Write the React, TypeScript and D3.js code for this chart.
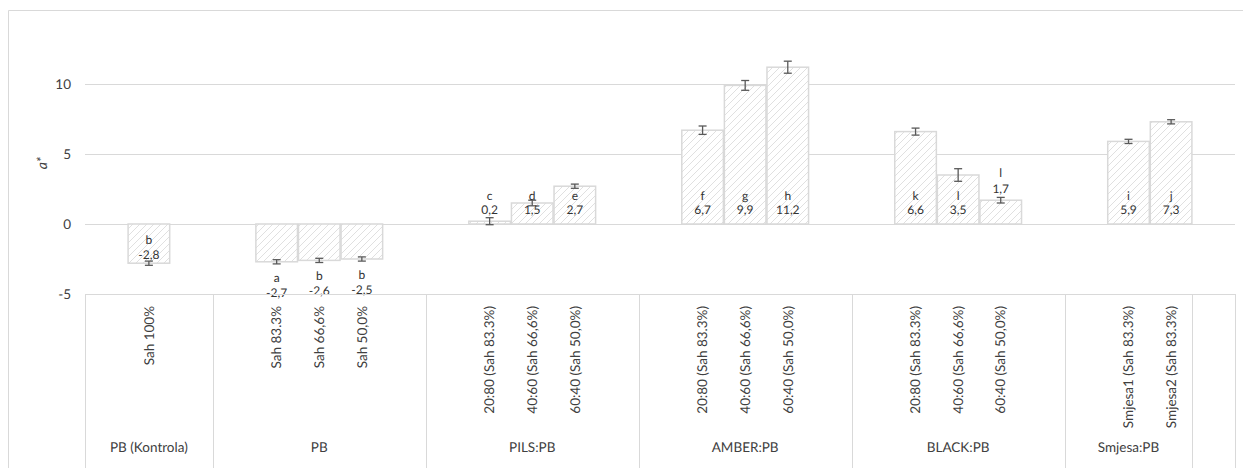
import React from "react";
import * as d3 from "d3";

const groupNames = ["PB (Kontrola)", "PB", "PILS:PB", "AMBER:PB", "BLACK:PB", "Smjesa:PB", ""];
const categoryLabels = [
  "", "Sah 100%", "",
  "", "Sah 83.3%", "Sah 66,6%", "Sah 50,0%", "",
  "", "20:80 (Sah 83.3%)", "40:60 (Sah 66,6%)", "60:40 (Sah 50,0%)", "",
  "", "20:80 (Sah 83.3%)", "40:60 (Sah 66,6%)", "60:40 (Sah 50,0%)", "",
  "", "20:80 (Sah 83.3%)", "40:60 (Sah 66,6%)", "60:40 (Sah 50,0%)", "",
  "", "Smjesa1 (Sah 83.3%)", "Smjesa2 (Sah 83.3%)",
  "",
];
const categoryGroups = [0, 0, 0, 1, 1, 1, 1, 1, 2, 2, 2, 2, 2, 3, 3, 3, 3, 3, 4, 4, 4, 4, 4, 5, 5, 5, 6];
const values: (number | null)[] = [
  null, -2.8, null,
  null, -2.7, -2.6, -2.5, null,
  null, 0.2, 1.5, 2.7, null,
  null, 6.7, 9.9, 11.2, null,
  null, 6.6, 3.5, 1.7, null,
  null, 5.9, 7.3,
  null,
];
const errors: (number | null)[] = [
  null, 0.15, null,
  null, 0.15, 0.15, 0.15, null,
  null, 0.25, 0.2, 0.15, null,
  null, 0.3, 0.35, 0.43, null,
  null, 0.25, 0.45, 0.2, null,
  null, 0.15, 0.15,
  null,
];
const letters = [
  "", "b", "",
  "", "a", "b", "b", "",
  "", "c", "d", "e", "",
  "", "f", "g", "h", "",
  "", "k", "l", "l", "",
  "", "i", "j",
  "",
];
const labelPlacement = [
  "", "insideEnd", "",
  "", "outsideEnd", "outsideEnd", "outsideEnd", "",
  "", "insideBase", "insideBase", "insideBase", "",
  "", "insideBase", "insideBase", "insideBase", "",
  "", "insideBase", "insideBase", "outsideEnd", "",
  "", "insideBase", "insideBase",
  "",
];
const yTicks = [-5, 0, 5, 10];
const yTitle = "a*";

const FONT = "Lato, 'Open Sans', sans-serif";
const GRID = "#d9d9d9";
const TEXT = "#404040";
const LABEL = "#333333";

const loc = d3.formatLocale({ decimal: ",", thousands: ".", grouping: [3], currency: ["", ""], minus: "-" });
const fmt = loc.format(".1f");

export default function App() {
  const W = 1243;
  const H = 468;
  const idx = categoryLabels.map((_, i) => i);
  const x = d3.scaleBand<number>().domain(idx).range([85, 1235]).padding(0);
  const y = d3.scaleLinear().domain([-5, 12]).range([294, 56]);
  const bw = x.bandwidth();
  const y0 = y(0);

  const groupExt = groupNames.map((_, g) => {
    const members = idx.filter((i) => categoryGroups[i] === g);
    const x0 = x(members[0])!;
    const x1 = x(members[members.length - 1])! + bw;
    return { x0, x1 };
  });
  const boundaries = [groupExt[0].x0, ...groupExt.map((e) => e.x1)];

  return (
    <svg width={W} height={H} style={{ position: "absolute", left: 0, top: 0, background: "#fff" }} textRendering="geometricPrecision">
      <defs>
        <pattern id="hatch" patternUnits="userSpaceOnUse" width={7} height={7}>
          <rect width={7} height={7} fill="#fff" />
          <path d="M-1,1 l2,-2 M0,7 l7,-7 M6,8 l2,-2" stroke="#dcdcdc" strokeWidth={0.9} />
        </pattern>
      </defs>
      <path d={`M8.5,${H} V10.5 H${W}`} fill="none" stroke={GRID} strokeWidth={1} />

      {yTicks.map((t) => (
        <line key={t} x1={85} x2={1235} y1={Math.round(y(t)) + 0.5} y2={Math.round(y(t)) + 0.5} stroke={GRID} strokeWidth={1} />
      ))}
      {yTicks.map((t) => (
        <text key={"t" + t} x={71} y={y(t)} dy="0.35em" textAnchor="end" fontFamily={FONT} fontSize={13.5} fill={TEXT}>
          {String(t)}
        </text>
      ))}
      <text transform={`translate(42,163) rotate(-90)`} textAnchor="middle" dy="0.35em" fontFamily={FONT} fontSize={14} fontStyle="italic" fill={TEXT}>
        {yTitle}
      </text>

      {idx.map((i) => {
        const v = values[i];
        if (v == null) return null;
        const yv = y(v);
        return (
          <rect key={"b" + i} x={x(i)! + 0.5} y={Math.min(yv, y0)} width={bw - 1} height={Math.abs(yv - y0)} fill="url(#hatch)" stroke="#d9d9d9" strokeWidth={1.5} />
        );
      })}
      {idx.map((i) => {
        const v = values[i];
        const e = errors[i];
        if (v == null || e == null) return null;
        const cx = x(i)! + bw / 2;
        const ya = y(v + e);
        const yb = y(v - e);
        return (
          <g key={"e" + i} stroke="#595959" strokeWidth={1.3}>
            <line x1={cx} x2={cx} y1={ya} y2={yb} />
            <line x1={cx - 4} x2={cx + 4} y1={ya} y2={ya} />
            <line x1={cx - 4} x2={cx + 4} y1={yb} y2={yb} />
          </g>
        );
      })}
      {idx.map((i) => {
        const v = values[i];
        if (v == null) return null;
        const cx = x(i)! + bw / 2;
        const yv = y(v);
        const p = labelPlacement[i];
        let l1 = 0;
        let l2 = 0;
        if (p === "insideBase") {
          l1 = y0 - 28.5;
          l2 = y0 - 14;
        } else if (p === "insideEnd") {
          l1 = yv - 23;
          l2 = yv - 8;
        } else if (p === "outsideEnd") {
          if (v >= 0) {
            l1 = yv - 27;
            l2 = yv - 11;
          } else {
            l1 = yv + 15.5;
            l2 = yv + 30.5;
          }
        }
        return (
          <g key={"l" + i} fontFamily={FONT} fontSize={12} fill={LABEL} textAnchor="middle">
            <text x={cx} y={l1} dy="0.35em">{letters[i]}</text>
            <text x={cx} y={l2} dy="0.35em">{fmt(v)}</text>
          </g>
        );
      })}

      <line x1={85} x2={1235} y1={294.5} y2={294.5} stroke={GRID} strokeWidth={1} />
      {boundaries.map((b, k) => (
        <line key={"s" + k} x1={Math.round(b) + 0.5} x2={Math.round(b) + 0.5} y1={294} y2={H} stroke={GRID} strokeWidth={1} />
      ))}
      {idx.map((i) =>
        categoryLabels[i] ? (
          <text key={"c" + i} transform={`translate(${x(i)! + bw / 2},306) rotate(-90)`} textAnchor="end" dy="0.35em" fontFamily={FONT} fontSize={13.5} fill={TEXT}>
            {categoryLabels[i]}
          </text>
        ) : null
      )}
      {groupNames.map((g, k) =>
        g ? (
          <text key={"g" + k} x={(groupExt[k].x0 + groupExt[k].x1) / 2} y={447} dy="0.35em" textAnchor="middle" fontFamily={FONT} fontSize={13.5} fill={TEXT}>
            {g}
          </text>
        ) : null
      )}
    </svg>
  );
}
